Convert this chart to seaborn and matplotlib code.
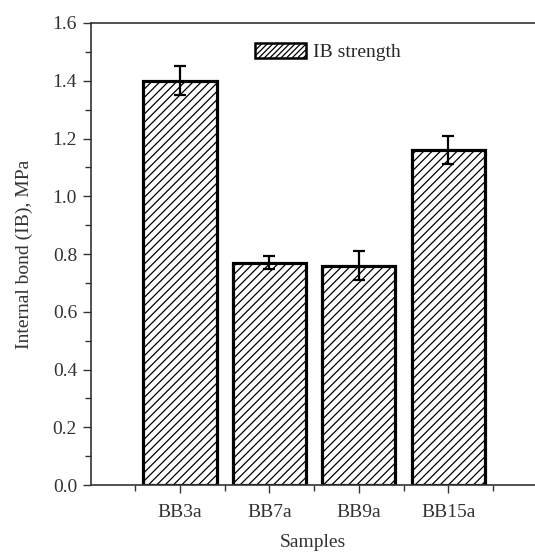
import matplotlib
matplotlib.use("Agg")
import matplotlib.pyplot as plt
import seaborn as sns
import pandas as pd
from matplotlib.ticker import MultipleLocator
from matplotlib.patches import Patch

samples = ["BB3a", "BB7a", "BB9a", "BB15a"]
ib_strength = [1.40, 0.77, 0.76, 1.16]
ib_error = [0.05, 0.022, 0.05, 0.05]

sns.set_theme(style="ticks")
plt.rcParams["font.family"] = ["Liberation Serif", "DejaVu Serif"]
plt.rcParams["hatch.linewidth"] = 0.9
plt.rcParams["hatch.color"] = "black"

df = pd.DataFrame({"Samples": samples, "IB": ib_strength})

fig = plt.figure(figsize=(5.35, 5.54), dpi=100)
ax = fig.add_axes([0.170, 0.1245, 0.830, 0.834])

sns.barplot(data=df, x="Samples", y="IB", color="white", edgecolor="black",
            linewidth=2.3, width=0.82, errorbar=None, ax=ax)
for p in ax.patches:
    p.set_hatch("////")
    p.set_facecolor("white")

xpos = list(range(len(samples)))
ax.errorbar(xpos, ib_strength, yerr=ib_error, fmt="none", ecolor="black",
            elinewidth=1.6, capsize=4, capthick=1.6, zorder=5)

ax.set_xlim(-0.995, 3.97)
ax.set_ylim(0, 1.6)
ax.yaxis.set_major_locator(MultipleLocator(0.2))
ax.yaxis.set_minor_locator(MultipleLocator(0.1))
ax.xaxis.set_minor_locator(MultipleLocator(0.5))
ax.set_xticks(xpos)
ax.set_xticklabels(samples)

for s in ["left", "bottom", "top"]:
    ax.spines[s].set_visible(True)
    ax.spines[s].set_color("#333333")
    ax.spines[s].set_linewidth(1.2)
ax.spines["right"].set_visible(False)

fs = 14
ax.tick_params(axis="both", which="major", direction="out", length=6, width=1.0,
               colors="#333333", labelsize=fs, labelcolor="#333333")
ax.tick_params(axis="both", which="minor", direction="out", length=4, width=1.0,
               colors="#333333")
ax.tick_params(axis="x", which="major", pad=8)
ax.tick_params(axis="y", which="major", pad=4)
ax.tick_params(top=False, right=False, which="both")

ax.set_xlabel("Samples", fontsize=fs, color="#333333", labelpad=9)
ax.set_ylabel("Internal bond (IB), MPa", fontsize=fs, color="#333333", labelpad=14)

handle = Patch(facecolor="white", edgecolor="black", hatch="//////", linewidth=1.8)
ax.legend([handle], ["IB strength"], loc="upper left", bbox_to_anchor=(0.33, 0.995),
          frameon=False, fontsize=fs, handlelength=2.6, handleheight=0.85,
          handletextpad=0.4)

fig.savefig("out.png", dpi=100)
